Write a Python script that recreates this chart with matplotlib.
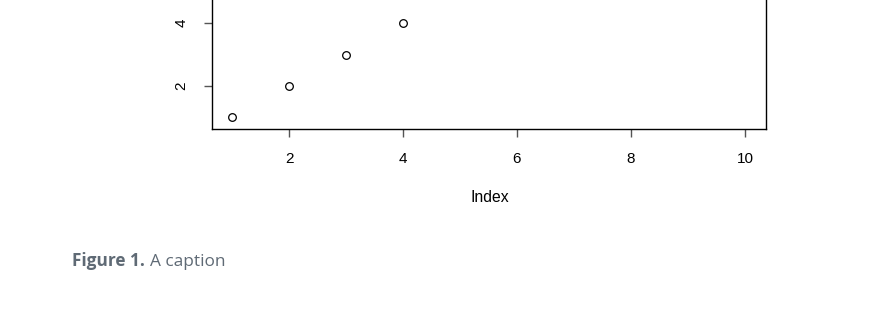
import matplotlib
matplotlib.use("Agg")
import matplotlib.pyplot as plt

# data: plot(1:10) in R
index = list(range(1, 11))
values = list(range(1, 11))
x_ticks = [2, 4, 6, 8, 10]
y_ticks = [2, 4, 6, 8, 10]
caption_bold = "Figure 1."
caption_rest = "A caption"

W, H = 885, 332
fig = plt.figure(figsize=(W / 100, H / 100), dpi=100)

# axes extends above the top of the figure (the picture is cropped)
left, right = 211.5, 765.5
bottom_px, top_px = 128.8, -177.0
ax = fig.add_axes([left / W, (H - bottom_px) / H, (right - left) / W, (bottom_px - top_px) / H])

ax.plot(index, values, linestyle="none", marker="o", markersize=5.5,
        markerfacecolor="none", markeredgecolor="black", markeredgewidth=0.9)
ax.set_xlim(0.64, 10.36)
ax.set_ylim(0.64, 10.36)

for s in ax.spines.values():
    s.set_linewidth(1.0)
    s.set_color("black")

ax.set_xticks(x_ticks)
ax.set_yticks(y_ticks)
ax.set_yticklabels([str(v) for v in y_ticks], rotation=90, va="center")
ax.tick_params(axis="both", direction="out", length=5.5, width=1.0, color="#555555",
               labelsize=11, labelcolor="black")
ax.tick_params(axis="x", pad=11)
ax.tick_params(axis="y", pad=11)
for lab in ax.get_xticklabels() + ax.get_yticklabels():
    lab.set_fontfamily("Liberation Sans")

fig.text(470 / W, 1 - 197 / H, "Index", ha="left", va="center",
         fontsize=11.3, family="Liberation Sans")

# caption: bold part then regular part
t1 = fig.text(72 / W, 1 - 266 / H, caption_bold, fontsize=12.4, fontweight="bold",
              family="Open Sans", color="#5f6a75", va="baseline")
fig.canvas.draw()
bb = t1.get_window_extent()
fig.text((bb.x1 + 5) / W, 1 - 266 / H, caption_rest, fontsize=12.4,
         family="Open Sans", color="#5f6a75", va="baseline")

fig.savefig("out.png", dpi=100)
